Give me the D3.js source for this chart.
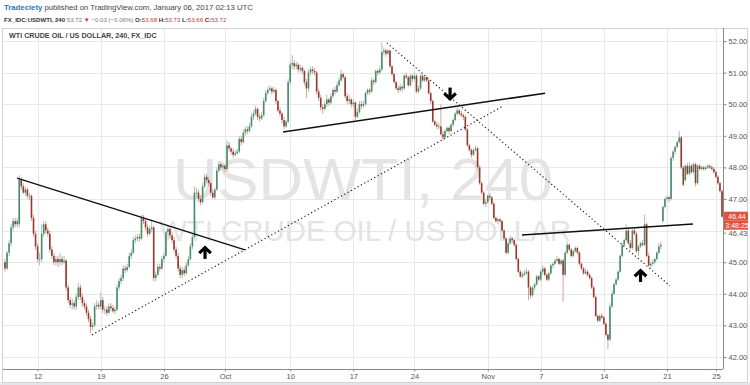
<!DOCTYPE html>
<html><head><meta charset="utf-8">
<script src="https://cdn.jsdelivr.net/npm/d3@7"></script>
<style>body{margin:0;background:#fff}svg{display:block}text{font-family:"Liberation Sans",Arial,sans-serif}</style>
</head><body><svg id="c" width="750" height="385"></svg>
<script>
// ---- DATA (4h candles, USDWTI) ----
const opens=[
45.0,44.8,45.3,45.6,46.1,46.3,46.2,46.2,47.6,47.4,
47.2,47.3,47.1,47.1,46.4,45.9,45.5,45.1,45.1,45.9,
46.2,46.0,45.9,45.4,45.2,45.0,45.1,45.0,45.1,45.0,
45.05,44.2,43.8,43.65,43.7,43.6,43.9,44.2,43.9,43.7,
43.6,43.4,43.2,42.95,43.0,43.6,43.65,43.6,43.8,43.5,
43.5,43.4,43.6,43.55,43.45,43.5,44.2,44.4,44.5,44.8,
44.75,44.85,45.2,45.3,45.7,45.75,45.8,45.75,46.4,46.3,
46.1,45.9,46.05,46.1,44.5,44.6,44.85,44.8,45.1,45.2,
45.95,46.05,45.85,45.7,45.4,45.2,44.8,44.6,44.75,44.65,
44.9,45.1,45.5,45.8,47.2,47.2,47.0,46.9,47.4,47.7,
47.6,47.5,47.2,47.05,47.3,47.9,48.1,48.0,48.05,47.95,
48.7,48.6,48.5,48.4,48.45,48.5,48.9,48.8,49.1,49.2,
49.15,49.3,49.6,49.7,49.85,49.6,49.55,49.65,50.1,50.35,
50.45,50.5,50.4,50.45,50.1,49.8,49.7,49.5,49.3,49.45,
50.7,51.25,51.3,51.2,51.25,51.1,51.15,51.05,50.7,50.5,
51.0,51.1,51.05,51.0,50.4,50.2,49.9,49.85,50.0,50.15,
50.05,50.25,50.45,50.4,50.6,50.75,50.95,50.85,50.25,50.1,
50.15,50.0,50.05,49.6,49.75,50.0,49.95,50.0,50.35,50.45,
50.4,50.75,50.7,51.05,51.0,51.1,51.65,51.7,51.6,51.7,
51.2,50.95,50.7,50.5,50.45,50.55,50.5,50.9,50.85,50.6,
50.9,50.8,50.9,50.4,50.5,50.9,50.75,50.85,50.75,50.35,
50.1,49.45,49.35,49.3,49.3,49.05,48.95,49.15,49.25,49.15,
49.35,49.5,49.7,49.8,49.7,49.65,49.6,49.2,48.7,48.55,
48.4,48.55,48.6,48.0,47.5,47.2,46.85,46.9,47.1,47.05,
46.85,46.4,46.3,46.35,46.3,46.0,45.75,45.3,45.6,45.75,
45.7,45.55,45.1,44.7,44.55,44.6,44.65,44.7,44.2,43.95,
44.2,44.3,44.55,44.45,44.7,44.8,44.6,44.45,44.65,44.9,
44.95,45.05,45.1,44.95,45.05,44.6,45.3,45.55,45.4,45.2,
45.35,45.45,45.3,44.95,44.8,44.65,44.7,44.6,44.5,44.2,
43.9,43.3,43.15,43.3,43.25,43.05,42.7,42.55,43.6,44.0,
44.3,44.45,44.7,45.2,45.55,45.7,46.0,45.6,45.45,46.0,
45.9,45.35,45.5,45.6,45.55,46.2,45.2,44.9,44.95,45.0,
45.1,45.3,45.5,46.3,46.75,47.0,47.05,47.0,48.3,48.5,
48.65,48.8,48.95,48.0,47.6,48.05,47.8,48.05,47.85,48.1,
47.5,48.05,47.95,48.0,47.95,48.0,48.05,48.0,47.95,47.85,
47.7,47.5,47.25];
const closes=[
44.8,45.3,45.6,46.1,46.3,46.2,46.3,47.6,47.4,47.2,
47.3,47.1,47.1,46.4,45.9,45.5,45.1,45.1,45.9,46.2,
46.0,45.9,45.4,45.2,45.0,45.1,45.0,45.1,45.0,45.05,
44.2,43.8,43.65,43.7,43.6,43.9,44.2,43.9,43.7,43.6,
43.4,43.2,42.95,43.0,43.6,43.65,43.6,43.8,43.5,43.5,
43.4,43.6,43.55,43.45,43.5,44.2,44.4,44.5,44.8,44.75,
44.85,45.2,45.3,45.7,45.75,45.8,45.75,46.4,46.3,46.1,
45.9,46.05,46.1,44.5,44.6,44.85,44.8,45.1,45.2,45.95,
46.05,45.85,45.7,45.4,45.2,44.8,44.6,44.75,44.65,44.9,
45.1,45.5,45.8,47.2,47.2,47.0,46.9,47.4,47.7,47.6,
47.5,47.2,47.05,47.3,47.9,48.1,48.0,48.05,47.95,48.7,
48.6,48.5,48.4,48.45,48.5,48.9,48.8,49.1,49.2,49.15,
49.3,49.6,49.7,49.85,49.6,49.55,49.65,50.1,50.35,50.45,
50.5,50.4,50.45,50.1,49.8,49.7,49.5,49.3,49.45,50.7,
51.25,51.3,51.2,51.25,51.1,51.15,51.05,50.7,50.5,51.0,
51.1,51.05,51.0,50.4,50.2,49.9,49.85,50.0,50.15,50.05,
50.25,50.45,50.4,50.6,50.75,50.95,50.85,50.25,50.1,50.15,
50.0,50.05,49.6,49.75,50.0,49.95,50.0,50.35,50.45,50.4,
50.75,50.7,51.05,51.0,51.1,51.65,51.7,51.6,51.7,51.2,
50.95,50.7,50.5,50.45,50.55,50.5,50.9,50.85,50.6,50.9,
50.8,50.9,50.4,50.5,50.9,50.75,50.85,50.75,50.35,50.1,
49.45,49.35,49.3,49.3,49.05,48.95,49.15,49.25,49.15,49.35,
49.5,49.7,49.8,49.7,49.65,49.6,49.2,48.7,48.55,48.4,
48.55,48.6,48.0,47.5,47.2,46.85,46.9,47.1,47.05,46.85,
46.4,46.3,46.35,46.3,46.0,45.75,45.3,45.6,45.75,45.7,
45.55,45.1,44.7,44.55,44.6,44.65,44.7,44.2,43.95,44.2,
44.3,44.55,44.45,44.7,44.8,44.6,44.45,44.65,44.9,44.95,
45.05,45.1,44.95,45.05,44.6,45.3,45.55,45.4,45.2,45.35,
45.45,45.3,44.95,44.8,44.65,44.7,44.6,44.5,44.2,43.9,
43.3,43.15,43.3,43.25,43.05,42.7,42.55,43.6,44.0,44.3,
44.45,44.7,45.2,45.55,45.7,46.0,45.6,45.45,46.0,45.9,
45.35,45.5,45.6,45.55,46.2,45.2,44.9,44.95,45.0,45.1,
45.3,45.5,45.55,46.75,47.0,47.05,47.0,48.3,48.5,48.65,
48.8,48.95,48.0,47.45,48.05,47.8,48.05,47.85,48.1,47.5,
48.05,47.95,48.0,47.95,48.0,48.05,48.0,47.95,47.85,47.7,
47.5,47.25,46.44];
const highs=[
45.1,45.35,45.7,46.2,46.4,46.4,46.4,47.75,47.7,47.5,
47.4,47.35,47.2,47.15,46.5,46.0,45.6,45.3,46.2,46.3,
46.3,46.1,46.0,45.5,45.3,45.2,45.2,45.3,45.2,45.2,
45.1,44.3,43.9,43.85,43.8,44.0,44.35,44.3,44.0,43.8,
43.7,43.5,43.3,43.1,43.7,43.8,43.75,44.05,43.9,43.6,
43.6,43.7,43.7,43.65,43.6,44.3,44.5,44.6,44.9,44.9,
44.95,45.3,45.4,45.8,45.85,45.9,45.9,46.5,46.5,46.35,
46.2,46.15,46.35,46.15,44.7,44.95,44.95,45.2,45.3,46.0,
46.15,46.1,45.95,45.8,45.5,45.3,44.9,44.85,44.85,45.0,
45.2,45.6,45.9,47.4,47.35,47.3,47.1,47.5,47.8,47.8,
47.7,47.55,47.3,47.35,48.0,48.2,48.2,48.15,48.1,48.85,
48.8,48.65,48.6,48.55,48.6,49.0,49.0,49.2,49.3,49.3,
49.4,49.7,49.8,49.95,49.9,49.7,49.75,50.2,50.45,50.55,
50.6,50.55,50.55,50.5,50.15,49.9,49.75,49.6,49.5,50.8,
51.35,51.55,51.4,51.35,51.3,51.25,51.2,51.1,50.8,51.1,
51.2,51.2,51.15,51.05,50.5,50.3,50.0,50.1,50.3,50.2,
50.35,50.5,50.55,50.7,50.85,51.1,51.0,50.9,50.35,50.3,
50.2,50.15,50.1,49.85,50.1,50.1,50.1,50.4,50.5,50.5,
50.85,50.8,51.1,51.1,51.2,51.95,51.8,51.75,51.75,51.72,
51.25,51.0,50.75,50.6,50.65,50.6,50.95,51.0,50.9,50.95,
50.95,51.0,50.95,50.6,50.95,50.95,50.9,50.9,50.8,50.4,
50.15,49.5,49.45,49.4,50.0,49.15,49.2,49.3,49.3,49.4,
49.55,49.75,49.9,49.85,49.8,49.7,49.65,49.25,48.75,48.6,
48.6,48.7,48.65,48.05,47.55,47.25,47.0,47.15,47.2,47.1,
46.9,46.45,46.4,46.4,46.35,46.05,45.8,45.65,45.85,45.8,
45.75,45.6,45.15,44.75,44.7,44.75,44.8,44.75,44.25,44.25,
44.35,44.6,44.6,44.75,44.9,44.85,44.65,44.7,44.95,45.0,
45.1,45.2,45.15,45.1,45.1,45.35,45.65,45.6,45.45,45.4,
45.5,45.5,45.35,45.0,44.85,44.8,44.75,44.65,44.55,44.25,
43.95,43.35,43.35,43.4,43.3,43.1,42.75,43.7,44.1,44.35,
44.5,44.75,45.25,45.6,45.75,46.2,46.05,45.7,46.05,46.1,
45.95,45.55,45.65,45.7,46.5,46.25,45.3,45.0,45.1,45.15,
45.35,45.6,45.65,46.8,47.05,47.1,47.1,48.35,48.55,48.7,
48.85,49.15,49.0,48.05,48.1,48.15,48.15,48.1,48.15,48.15,
48.1,48.1,48.05,48.05,48.05,48.1,48.1,48.05,48.0,47.9,
47.75,47.55,47.3];
const lows=[
44.7,44.75,45.2,45.5,46.0,46.1,46.1,46.1,47.3,47.15,
47.1,47.0,46.95,46.3,45.8,45.4,45.0,44.9,45.0,45.8,
45.9,45.8,45.3,45.1,44.9,44.9,44.85,44.9,44.9,44.95,
44.1,43.7,43.55,43.5,43.5,43.5,43.8,43.8,43.6,43.5,
43.3,43.1,42.75,42.85,42.95,43.5,43.5,43.5,43.4,43.35,
43.3,43.35,43.45,43.4,43.35,43.45,44.1,44.3,44.4,44.65,
44.7,44.8,45.1,45.25,45.6,45.65,45.65,45.7,46.2,46.0,
45.8,45.85,45.95,44.4,44.4,44.55,44.7,44.75,45.0,45.15,
45.85,45.75,45.6,45.3,45.1,44.7,44.5,44.5,44.55,44.6,
44.85,45.05,45.4,45.75,47.05,46.9,46.8,46.85,47.35,47.5,
47.4,47.1,47.0,47.0,47.25,47.85,47.9,47.9,47.85,47.9,
48.5,48.4,48.3,48.35,48.4,48.45,48.7,48.75,49.0,49.05,
49.1,49.25,49.5,49.65,49.5,49.45,49.5,49.6,50.05,50.3,
50.4,50.3,50.35,50.0,49.75,49.6,49.4,49.2,49.25,49.4,
50.6,51.1,51.1,51.1,51.0,51.0,50.95,50.6,50.2,50.4,
50.9,50.95,50.9,50.3,50.1,49.8,49.7,49.8,49.9,49.95,
50.0,50.2,50.3,50.35,50.55,50.7,50.8,50.2,50.0,50.0,
49.9,49.9,49.5,49.55,49.7,49.85,49.9,49.95,50.3,50.3,
50.35,50.6,50.65,50.9,50.95,51.05,51.55,51.5,51.55,51.15,
50.9,50.65,50.45,50.35,50.4,50.4,50.45,50.8,50.55,50.55,
50.7,50.75,50.35,50.35,50.45,50.7,50.7,50.7,50.3,50.0,
49.4,49.3,49.2,49.2,49.0,48.85,48.9,49.1,49.05,49.1,
49.3,49.45,49.65,49.65,49.6,49.5,49.15,48.65,48.5,48.3,
48.35,48.5,47.95,47.45,47.15,46.8,46.75,46.85,46.95,46.8,
46.35,46.25,46.2,46.25,45.95,45.7,45.25,45.25,45.55,45.6,
45.5,45.05,44.65,44.5,44.5,44.55,44.6,43.8,43.85,43.9,
44.1,44.25,44.4,44.4,44.6,44.55,44.4,44.4,44.6,44.8,
44.9,45.0,44.9,44.9,43.75,44.55,45.25,45.35,45.15,45.15,
45.3,45.25,44.9,44.75,44.6,44.6,44.55,44.45,44.15,43.85,
43.25,43.1,43.1,43.2,43.0,42.65,42.25,42.5,43.55,43.95,
44.25,44.4,44.65,45.15,45.5,45.65,45.55,45.4,45.4,45.85,
45.3,45.2,45.45,45.5,45.5,45.15,44.85,44.8,44.9,44.95,
45.05,45.25,45.4,46.25,46.7,46.95,46.9,46.95,48.2,48.4,
48.6,48.75,47.95,47.4,47.55,47.75,47.75,47.8,47.8,47.4,
47.45,47.9,47.9,47.9,47.9,47.95,47.95,47.9,47.8,47.65,
47.45,47.2,46.4];

const priceGrid=[42,43,44,45,46,47,48,49,50,51,52];
const priceTicks=[42,43,44,45,47,48,49,50,51,52];
const tickIdx=[16,47,78,108,140,171,201,237,263,294,325,349];
const tickLabels=["12","19","26","Oct","10","17","24","Nov","7","14","21","25"];
const lastPrice=46.44, countdown="3:48:25", bidPrice=46.43;
// annotations in data space: [barIndex, price]
const solidLines=[[[5.9,47.66],[117.8,45.39]],[[136.5,49.12],[265.1,50.35]],[[253.8,45.86],[337.8,46.21]]];
const dottedLines=[[[42.7,42.70],[244.5,49.94]],[[187.5,51.94],[326.5,44.25]]];
const arrows=[{i:98.2,p:45.31,dir:"up"},{i:218.5,p:50.32,dir:"down"},{i:312,p:44.58,dir:"up"}];
// header pieces: [text, colour, bold]
const header1=[["Tradeciety ","#2a78c2",true],["published on TradingView.com, January 06, 2017 02:13 UTC","#444",false]];
const header2=[["FX_IDC:USDWTI, 240 ","#333",true],["53.72 ","#777",false],["▼ ","#c0392b",false],["−0.03 (−0.06%) ","#777",false],
  ["O:","#333",true],["53.68 ","#c0392b",false],["H:","#333",true],["53.73 ","#c0392b",false],
  ["L:","#333",true],["53.66 ","#c0392b",false],["C:","#333",true],["53.72","#c0392b",false]];

// ---- LAYOUT ----
const L=3,R=723,T=28,B=369;
const svg=d3.select("#c");
const n=closes.length;
const x=d3.scaleLinear().domain([0,n-1]).range([5,722]);
const y=d3.scaleLinear().domain([42,52]).range([357,41]);

svg.append("rect").attr("x",0).attr("y",382.5).attr("width",750).attr("height",3).attr("fill","#e3e7eb");
svg.append("rect").attr("x",2.5).attr("y",T+0.5).attr("width",745).attr("height",354).attr("fill","none").attr("stroke","#cfd3d6");

svg.append("defs").append("clipPath").attr("id","pc").append("rect").attr("x",L).attr("y",T+1).attr("width",R-L).attr("height",B-T-1);
const g=svg.append("g").attr("clip-path","url(#pc)");

g.selectAll(".hg").data(priceGrid).join("line").attr("x1",L).attr("x2",R)
  .attr("y1",d=>Math.round(y(d))+0.5).attr("y2",d=>Math.round(y(d))+0.5).attr("stroke","#e8e8e8");
g.selectAll(".vg").data(tickIdx).join("line").attr("y1",T).attr("y2",B)
  .attr("x1",d=>Math.round(x(d))+0.5).attr("x2",d=>Math.round(x(d))+0.5).attr("stroke","#e8e8e8");

g.append("text").attr("x",363).attr("y",200).attr("text-anchor","middle").attr("font-size",60)
  .attr("fill","#e4e4e4").attr("textLength",380).attr("lengthAdjust","spacingAndGlyphs").text("USDWTI, 240");
g.append("text").attr("x",365).attr("y",241).attr("text-anchor","middle").attr("font-size",30)
  .attr("fill","#e4e4e4").attr("textLength",412).attr("lengthAdjust","spacingAndGlyphs").text("WTI CRUDE OIL / US DOLLAR");

const up="#4a8c6a", dn="#96392e";
const idx=d3.range(n);
g.selectAll(".wk").data(idx).join("line")
  .attr("x1",i=>x(i)).attr("x2",i=>x(i)).attr("y1",i=>y(highs[i])).attr("y2",i=>y(lows[i]))
  .attr("stroke",i=>closes[i]>=opens[i]?"#97bda8":"#cc9a93").attr("stroke-width",0.9);
g.selectAll(".bd").data(idx).join("rect")
  .attr("x",i=>x(i)-0.8).attr("width",1.6)
  .attr("y",i=>y(Math.max(opens[i],closes[i])))
  .attr("height",i=>Math.max(0.8,Math.abs(y(opens[i])-y(closes[i]))))
  .attr("fill",i=>closes[i]>=opens[i]?up:dn);

g.selectAll(".sl").data(solidLines).join("line")
  .attr("x1",d=>x(d[0][0])).attr("y1",d=>y(d[0][1])).attr("x2",d=>x(d[1][0])).attr("y2",d=>y(d[1][1]))
  .attr("stroke","#111").attr("stroke-width",1.5);
g.selectAll(".dl").data(dottedLines).join("line")
  .attr("x1",d=>x(d[0][0])).attr("y1",d=>y(d[0][1])).attr("x2",d=>x(d[1][0])).attr("y2",d=>y(d[1][1]))
  .attr("stroke","#111").attr("stroke-width",1.1).attr("stroke-dasharray","1.2,2.6");

arrows.forEach(a=>{
  const cx=x(a.i), cy=y(a.p), s=a.dir==="up"?1:-1;
  const ag=g.append("g").attr("transform",`translate(${cx},${cy}) scale(1,${s})`);
  ag.append("path").attr("d","M0,-5.5 L0,6.5").attr("stroke","#000").attr("stroke-width",3.2);
  ag.append("path").attr("d","M-5.8,0.8 L0,-4.8 L5.8,0.8").attr("fill","none").attr("stroke","#000").attr("stroke-width",3.2).attr("stroke-linejoin","miter");
});

svg.append("line").attr("x1",R+0.5).attr("x2",R+0.5).attr("y1",T).attr("y2",B).attr("stroke","#8a8a8a");
const ra=svg.append("g").attr("transform",`translate(${R+0.5},0)`)
  .call(d3.axisRight(y).tickValues(priceTicks).tickFormat(d3.format(".2f")).tickSize(3).tickPadding(2));
ra.select(".domain").remove();
ra.selectAll("line").attr("stroke","#8a8a8a");
ra.selectAll("text").attr("font-size",7.5).attr("fill","#555").attr("font-family","Liberation Sans, Arial, sans-serif");

svg.append("line").attr("x1",L).attr("x2",R).attr("y1",B+0.5).attr("y2",B+0.5).attr("stroke","#8a8a8a");
const ba=svg.append("g").attr("transform",`translate(0,${B+0.5})`)
  .call(d3.axisBottom(x).tickValues(tickIdx).tickFormat((d,i)=>tickLabels[i]).tickSize(2).tickPadding(2));
ba.select(".domain").remove();
ba.selectAll("line").attr("stroke","#8a8a8a");
ba.selectAll("text").attr("font-size",7.5).attr("fill","#555").attr("font-family","Liberation Sans, Arial, sans-serif");

const ly=y(lastPrice);
svg.append("rect").attr("x",R+1).attr("y",ly-5).attr("width",24).attr("height",9).attr("fill","#e0533f");
svg.append("text").attr("x",R+14).attr("y",ly+2.5).attr("text-anchor","middle").attr("font-size",7).attr("fill","#fff").text(lastPrice.toFixed(2));
svg.append("rect").attr("x",R+1).attr("y",ly+4).attr("width",24).attr("height",9).attr("fill","#e0533f");
svg.append("text").attr("x",R+14).attr("y",ly+11.3).attr("text-anchor","middle").attr("font-size",7).attr("fill","#fff").text(countdown);
svg.append("line").attr("x1",R).attr("x2",R+3).attr("y1",ly+16.5).attr("y2",ly+16.5).attr("stroke","#8a8a8a");
svg.append("text").attr("x",R+5.5).attr("y",ly+19).attr("font-size",7.5).attr("fill","#555").text(bidPrice.toFixed(2));

const title=svg.append("text").attr("x",9).attr("y",37.5).attr("font-size",10).attr("font-weight","bold").attr("fill","#444")
  .text("WTI CRUDE OIL / US DOLLAR, 240, FX_IDC");
title.attr("font-size",10*148/title.node().getComputedTextLength());

// header lines: font size chosen so the natural width matches the reference width
function header(parts,yy,w){
  const t=svg.append("text").attr("x",4).attr("y",yy).attr("font-size",10).attr("xml:space","preserve");
  parts.forEach(p=>t.append("tspan").attr("fill",p[1]).attr("font-weight",p[2]?"bold":"normal").text(p[0]));
  t.attr("font-size",10*w/t.node().getComputedTextLength());
}
header(header1,9.5,249);
header(header2,21.5,223);
</script></body></html>
